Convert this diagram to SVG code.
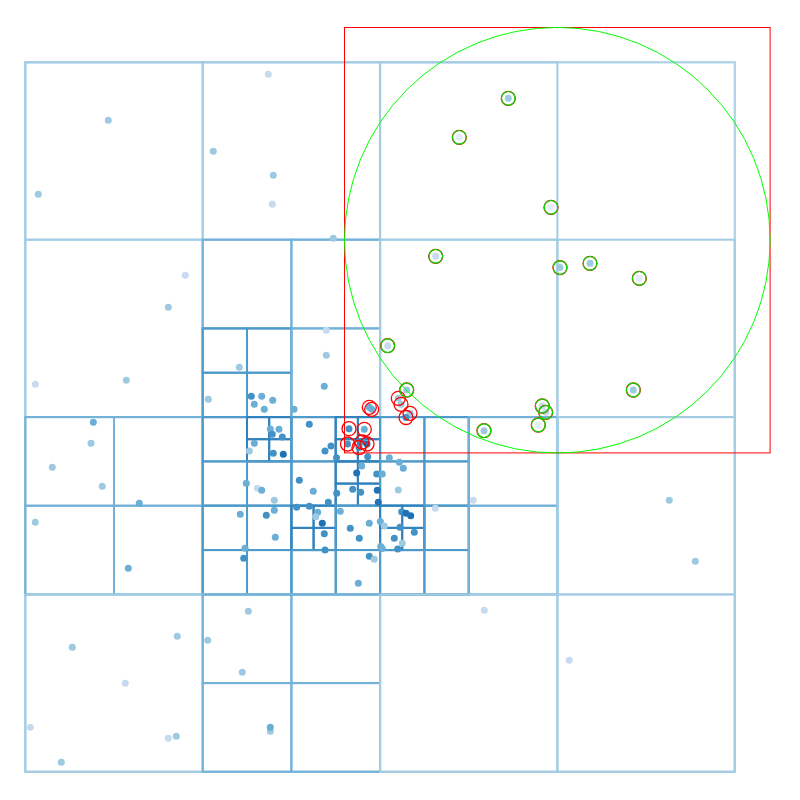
<svg xmlns="http://www.w3.org/2000/svg" width="800" height="800" viewBox="0 0 800 800">
<style>
rect.n{fill:none;stroke-width:2}
.d0{stroke:#bcdcec}.d1{stroke:#b0d3e8}.d2{stroke:#a3cce4}.d3{stroke:#72b1d8}.d4{stroke:#4e9acb}.d5{stroke:#3182bd}
circle.p{stroke:none}
.A{fill:#e2edf8}.B{fill:#c6dbef}.C{fill:#9ecae1}.D{fill:#6baed6}.E{fill:#4292c6}.F{fill:#2171b5}
.rr{fill:none;stroke:#ff0000;stroke-width:1.3}
.rg{fill:none;stroke:#00dd00;stroke-width:1.2}
</style>
<g id="quadtree">
<rect class="n d0" x="25.3" y="62.3" width="709.5" height="709.5"/>
<rect class="n d1" x="25.3" y="62.3" width="354.75" height="354.75"/>
<rect class="n d2" x="25.3" y="62.3" width="177.38" height="177.38"/>
<rect class="n d2" x="202.7" y="62.3" width="177.38" height="177.38"/>
<rect class="n d2" x="25.3" y="239.7" width="177.38" height="177.38"/>
<rect class="n d2" x="202.7" y="239.7" width="177.38" height="177.38"/>
<rect class="n d3" x="202.7" y="239.7" width="88.69" height="88.69"/>
<rect class="n d3" x="291.4" y="239.7" width="88.69" height="88.69"/>
<rect class="n d3" x="202.7" y="328.4" width="88.69" height="88.69"/>
<rect class="n d4" x="202.7" y="328.4" width="44.34" height="44.34"/>
<rect class="n d4" x="247.0" y="328.4" width="44.34" height="44.34"/>
<rect class="n d4" x="202.7" y="372.7" width="44.34" height="44.34"/>
<rect class="n d4" x="247.0" y="372.7" width="44.34" height="44.34"/>
<rect class="n d3" x="291.4" y="328.4" width="88.69" height="88.69"/>
<rect class="n d1" x="380.05" y="62.3" width="354.75" height="354.75"/>
<rect class="n d2" x="380.05" y="62.3" width="177.38" height="177.38"/>
<rect class="n d2" x="380.05" y="239.7" width="177.38" height="177.38"/>
<rect class="n d2" x="557.4" y="239.7" width="177.38" height="177.38"/>
<rect class="n d1" x="25.3" y="417.05" width="354.75" height="354.75"/>
<rect class="n d2" x="25.3" y="417.05" width="177.38" height="177.38"/>
<rect class="n d3" x="25.3" y="417.05" width="88.69" height="88.69"/>
<rect class="n d3" x="114.0" y="417.05" width="88.69" height="88.69"/>
<rect class="n d3" x="25.3" y="505.7" width="88.69" height="88.69"/>
<rect class="n d3" x="114.0" y="505.7" width="88.69" height="88.69"/>
<rect class="n d2" x="202.7" y="417.05" width="177.38" height="177.38"/>
<rect class="n d3" x="202.7" y="417.05" width="88.69" height="88.69"/>
<rect class="n d4" x="202.7" y="417.05" width="44.34" height="44.34"/>
<rect class="n d4" x="247.0" y="417.05" width="44.34" height="44.34"/>
<rect class="n d5" x="247.0" y="417.05" width="22.17" height="22.17"/>
<rect class="n d5" x="269.2" y="417.05" width="22.17" height="22.17"/>
<rect class="n d5" x="247.0" y="439.2" width="22.17" height="22.17"/>
<rect class="n d5" x="269.2" y="439.2" width="22.17" height="22.17"/>
<rect class="n d4" x="202.7" y="461.4" width="44.34" height="44.34"/>
<rect class="n d4" x="247.0" y="461.4" width="44.34" height="44.34"/>
<rect class="n d3" x="291.4" y="417.05" width="88.69" height="88.69"/>
<rect class="n d4" x="291.4" y="417.05" width="44.34" height="44.34"/>
<rect class="n d4" x="335.7" y="417.05" width="44.34" height="44.34"/>
<rect class="n d5" x="335.7" y="417.05" width="22.17" height="22.17"/>
<rect class="n d5" x="357.9" y="417.05" width="22.17" height="22.17"/>
<rect class="n d5" x="335.7" y="439.2" width="22.17" height="22.17"/>
<rect class="n d5" x="357.9" y="439.2" width="22.17" height="22.17"/>
<rect class="n d4" x="291.4" y="461.4" width="44.34" height="44.34"/>
<rect class="n d4" x="335.7" y="461.4" width="44.34" height="44.34"/>
<rect class="n d5" x="335.7" y="461.4" width="22.17" height="22.17"/>
<rect class="n d5" x="357.9" y="461.4" width="22.17" height="22.17"/>
<rect class="n d5" x="335.7" y="483.6" width="22.17" height="22.17"/>
<rect class="n d5" x="357.9" y="483.6" width="22.17" height="22.17"/>
<rect class="n d3" x="202.7" y="505.7" width="88.69" height="88.69"/>
<rect class="n d4" x="202.7" y="505.7" width="44.34" height="44.34"/>
<rect class="n d4" x="247.0" y="505.7" width="44.34" height="44.34"/>
<rect class="n d4" x="202.7" y="550.1" width="44.34" height="44.34"/>
<rect class="n d4" x="247.0" y="550.1" width="44.34" height="44.34"/>
<rect class="n d3" x="291.4" y="505.7" width="88.69" height="88.69"/>
<rect class="n d4" x="291.4" y="505.7" width="44.34" height="44.34"/>
<rect class="n d5" x="291.4" y="505.7" width="22.17" height="22.17"/>
<rect class="n d5" x="313.6" y="505.7" width="22.17" height="22.17"/>
<rect class="n d5" x="291.4" y="527.9" width="22.17" height="22.17"/>
<rect class="n d5" x="313.6" y="527.9" width="22.17" height="22.17"/>
<rect class="n d4" x="335.7" y="505.7" width="44.34" height="44.34"/>
<rect class="n d4" x="291.4" y="550.1" width="44.34" height="44.34"/>
<rect class="n d4" x="335.7" y="550.1" width="44.34" height="44.34"/>
<rect class="n d2" x="25.3" y="594.4" width="177.38" height="177.38"/>
<rect class="n d2" x="202.7" y="594.4" width="177.38" height="177.38"/>
<rect class="n d3" x="202.7" y="594.4" width="88.69" height="88.69"/>
<rect class="n d3" x="291.4" y="594.4" width="88.69" height="88.69"/>
<rect class="n d3" x="202.7" y="683.1" width="88.69" height="88.69"/>
<rect class="n d3" x="291.4" y="683.1" width="88.69" height="88.69"/>
<rect class="n d1" x="380.05" y="417.05" width="354.75" height="354.75"/>
<rect class="n d2" x="380.05" y="417.05" width="177.38" height="177.38"/>
<rect class="n d3" x="380.05" y="417.05" width="88.69" height="88.69"/>
<rect class="n d4" x="380.05" y="417.05" width="44.34" height="44.34"/>
<rect class="n d4" x="424.4" y="417.05" width="44.34" height="44.34"/>
<rect class="n d4" x="380.05" y="461.4" width="44.34" height="44.34"/>
<rect class="n d4" x="424.4" y="461.4" width="44.34" height="44.34"/>
<rect class="n d3" x="468.7" y="417.05" width="88.69" height="88.69"/>
<rect class="n d3" x="380.05" y="505.7" width="88.69" height="88.69"/>
<rect class="n d4" x="380.05" y="505.7" width="44.34" height="44.34"/>
<rect class="n d5" x="380.05" y="505.7" width="22.17" height="22.17"/>
<rect class="n d5" x="402.2" y="505.7" width="22.17" height="22.17"/>
<rect class="n d5" x="380.05" y="527.9" width="22.17" height="22.17"/>
<rect class="n d5" x="402.2" y="527.9" width="22.17" height="22.17"/>
<rect class="n d4" x="424.4" y="505.7" width="44.34" height="44.34"/>
<rect class="n d4" x="380.05" y="550.1" width="44.34" height="44.34"/>
<rect class="n d4" x="424.4" y="550.1" width="44.34" height="44.34"/>
<rect class="n d3" x="468.7" y="505.7" width="88.69" height="88.69"/>
<rect class="n d2" x="557.4" y="417.05" width="177.38" height="177.38"/>
<rect class="n d2" x="380.05" y="594.4" width="177.38" height="177.38"/>
<rect class="n d2" x="557.4" y="594.4" width="177.38" height="177.38"/>
</g>
<g id="points">
<circle class="p B" cx="268.3" cy="74.3" r="3.5"/>
<circle class="p C" cx="108.3" cy="120.3" r="3.5"/>
<circle class="p C" cx="38.3" cy="194.3" r="3.5"/>
<circle class="p C" cx="213.3" cy="151.3" r="3.5"/>
<circle class="p C" cx="273.3" cy="175.3" r="3.5"/>
<circle class="p B" cx="272.3" cy="204.3" r="3.5"/>
<circle class="p C" cx="333.3" cy="238.3" r="3.5"/>
<circle class="p C" cx="508.3" cy="98.3" r="3.5"/>
<circle class="p A" cx="459.3" cy="137.3" r="3.5"/>
<circle class="p A" cx="551" cy="207.3" r="3.5"/>
<circle class="p B" cx="435.7" cy="256.3" r="3.5"/>
<circle class="p C" cx="560" cy="267.6" r="3.5"/>
<circle class="p C" cx="590" cy="263.3" r="3.5"/>
<circle class="p A" cx="639.3" cy="278.3" r="3.5"/>
<circle class="p B" cx="387.7" cy="345.7" r="3.5"/>
<circle class="p C" cx="406.7" cy="390" r="3.5"/>
<circle class="p C" cx="633.3" cy="390" r="3.5"/>
<circle class="p B" cx="542.3" cy="406" r="3.5"/>
<circle class="p B" cx="545.7" cy="412.3" r="3.5"/>
<circle class="p A" cx="538.3" cy="425" r="3.5"/>
<circle class="p C" cx="484" cy="430.7" r="3.5"/>
<circle class="p C" cx="398.3" cy="398.3" r="3.5"/>
<circle class="p C" cx="401" cy="404.3" r="3.5"/>
<circle class="p C" cx="410" cy="413.3" r="3.5"/>
<circle class="p E" cx="406" cy="417.5" r="3.5"/>
<circle class="p B" cx="185.3" cy="275.3" r="3.5"/>
<circle class="p C" cx="168.3" cy="307.3" r="3.5"/>
<circle class="p B" cx="35.3" cy="384.3" r="3.5"/>
<circle class="p C" cx="126.3" cy="380.3" r="3.5"/>
<circle class="p B" cx="326.3" cy="330.3" r="3.5"/>
<circle class="p C" cx="326.3" cy="355.3" r="3.5"/>
<circle class="p D" cx="324.3" cy="386.3" r="3.5"/>
<circle class="p C" cx="239.3" cy="367.3" r="3.5"/>
<circle class="p C" cx="208.3" cy="399.3" r="3.5"/>
<circle class="p E" cx="251.3" cy="396.3" r="3.5"/>
<circle class="p D" cx="261.7" cy="396.3" r="3.5"/>
<circle class="p D" cx="254.3" cy="404.3" r="3.5"/>
<circle class="p D" cx="272.7" cy="400.3" r="3.5"/>
<circle class="p D" cx="264.3" cy="409.3" r="3.5"/>
<circle class="p D" cx="294" cy="409.3" r="3.5"/>
<circle class="p D" cx="369.3" cy="407.3" r="3.5"/>
<circle class="p D" cx="371.7" cy="409.3" r="3.5"/>
<circle class="p E" cx="309.3" cy="424.3" r="3.5"/>
<circle class="p D" cx="270.3" cy="429" r="3.5"/>
<circle class="p D" cx="279" cy="429.3" r="3.5"/>
<circle class="p E" cx="272.3" cy="434.3" r="3.5"/>
<circle class="p E" cx="282.3" cy="437" r="3.5"/>
<circle class="p D" cx="254.3" cy="443.3" r="3.5"/>
<circle class="p C" cx="249.3" cy="451" r="3.5"/>
<circle class="p E" cx="273.3" cy="453.3" r="3.5"/>
<circle class="p F" cx="283.3" cy="454.3" r="3.5"/>
<circle class="p E" cx="325" cy="451" r="3.5"/>
<circle class="p E" cx="331" cy="446" r="3.5"/>
<circle class="p E" cx="336.5" cy="457.7" r="3.5"/>
<circle class="p E" cx="349" cy="428.7" r="3.5"/>
<circle class="p D" cx="364.3" cy="429.3" r="3.5"/>
<circle class="p E" cx="347.5" cy="444" r="3.5"/>
<circle class="p E" cx="359" cy="447.5" r="3.5"/>
<circle class="p E" cx="362" cy="442" r="3.5"/>
<circle class="p F" cx="367" cy="444" r="3.5"/>
<circle class="p E" cx="367.7" cy="456.7" r="3.5"/>
<circle class="p D" cx="361.7" cy="466" r="3.5"/>
<circle class="p F" cx="356.7" cy="473" r="3.5"/>
<circle class="p E" cx="376.7" cy="474" r="3.5"/>
<circle class="p D" cx="382.3" cy="474" r="3.5"/>
<circle class="p D" cx="389.3" cy="457.7" r="3.5"/>
<circle class="p D" cx="399.3" cy="462.3" r="3.5"/>
<circle class="p D" cx="403.3" cy="468.3" r="3.5"/>
<circle class="p E" cx="299.3" cy="480.3" r="3.5"/>
<circle class="p D" cx="246.3" cy="483.3" r="3.5"/>
<circle class="p B" cx="257.3" cy="488.3" r="3.5"/>
<circle class="p D" cx="261.7" cy="490.3" r="3.5"/>
<circle class="p D" cx="313.3" cy="491.3" r="3.5"/>
<circle class="p E" cx="352.7" cy="489.3" r="3.5"/>
<circle class="p E" cx="360.7" cy="492.3" r="3.5"/>
<circle class="p F" cx="377.3" cy="490.3" r="3.5"/>
<circle class="p E" cx="336.7" cy="493.3" r="3.5"/>
<circle class="p C" cx="274.3" cy="500.3" r="3.5"/>
<circle class="p E" cx="328.3" cy="502.3" r="3.5"/>
<circle class="p F" cx="378.3" cy="502.3" r="3.5"/>
<circle class="p C" cx="398.3" cy="490" r="3.5"/>
<circle class="p B" cx="473.3" cy="500.3" r="3.5"/>
<circle class="p B" cx="435.3" cy="508.3" r="3.5"/>
<circle class="p D" cx="274.3" cy="510.3" r="3.5"/>
<circle class="p E" cx="296.7" cy="507.3" r="3.5"/>
<circle class="p E" cx="309.3" cy="506.3" r="3.5"/>
<circle class="p D" cx="317.7" cy="512.3" r="3.5"/>
<circle class="p C" cx="315.7" cy="516.7" r="3.5"/>
<circle class="p D" cx="240.3" cy="514.3" r="3.5"/>
<circle class="p E" cx="266.3" cy="515.3" r="3.5"/>
<circle class="p D" cx="340.3" cy="511.3" r="3.5"/>
<circle class="p E" cx="401.7" cy="511.7" r="3.5"/>
<circle class="p F" cx="406" cy="513.3" r="3.5"/>
<circle class="p F" cx="410.7" cy="515.7" r="3.5"/>
<circle class="p F" cx="322.3" cy="523.3" r="3.5"/>
<circle class="p E" cx="350.3" cy="528.3" r="3.5"/>
<circle class="p D" cx="369.3" cy="523.3" r="3.5"/>
<circle class="p D" cx="380.3" cy="521.5" r="3.5"/>
<circle class="p C" cx="384.3" cy="526" r="3.5"/>
<circle class="p E" cx="400" cy="527.3" r="3.5"/>
<circle class="p E" cx="414.3" cy="532.3" r="3.5"/>
<circle class="p E" cx="394.3" cy="538.3" r="3.5"/>
<circle class="p E" cx="324.3" cy="533.7" r="3.5"/>
<circle class="p E" cx="359.3" cy="538.3" r="3.5"/>
<circle class="p D" cx="275.3" cy="537.3" r="3.5"/>
<circle class="p D" cx="245" cy="548.3" r="3.5"/>
<circle class="p E" cx="243.7" cy="558.3" r="3.5"/>
<circle class="p E" cx="325" cy="550" r="3.5"/>
<circle class="p D" cx="380.7" cy="546.5" r="3.5"/>
<circle class="p D" cx="382.3" cy="548.5" r="3.5"/>
<circle class="p C" cx="402.3" cy="543.3" r="3.5"/>
<circle class="p E" cx="397.7" cy="549" r="3.5"/>
<circle class="p E" cx="369.3" cy="556.3" r="3.5"/>
<circle class="p C" cx="374.3" cy="559.3" r="3.5"/>
<circle class="p D" cx="358.3" cy="583.3" r="3.5"/>
<circle class="p D" cx="93.3" cy="422.3" r="3.5"/>
<circle class="p C" cx="91" cy="443.3" r="3.5"/>
<circle class="p C" cx="52.3" cy="467.3" r="3.5"/>
<circle class="p C" cx="102.3" cy="486.3" r="3.5"/>
<circle class="p D" cx="139.3" cy="503.3" r="3.5"/>
<circle class="p C" cx="35.3" cy="522.3" r="3.5"/>
<circle class="p D" cx="128.3" cy="568.3" r="3.5"/>
<circle class="p C" cx="248.3" cy="611.3" r="3.5"/>
<circle class="p C" cx="207.7" cy="640.3" r="3.5"/>
<circle class="p C" cx="242.3" cy="672.3" r="3.5"/>
<circle class="p C" cx="270.3" cy="731.3" r="3.5"/>
<circle class="p D" cx="270.3" cy="727.3" r="3.5"/>
<circle class="p C" cx="72.3" cy="647.3" r="3.5"/>
<circle class="p C" cx="177.3" cy="636.3" r="3.5"/>
<circle class="p B" cx="125.3" cy="683.3" r="3.5"/>
<circle class="p B" cx="30.3" cy="727.3" r="3.5"/>
<circle class="p B" cx="168.3" cy="738.3" r="3.5"/>
<circle class="p C" cx="176.3" cy="736.3" r="3.5"/>
<circle class="p C" cx="61.3" cy="762.3" r="3.5"/>
<circle class="p C" cx="669.3" cy="500.3" r="3.5"/>
<circle class="p C" cx="695.3" cy="561.3" r="3.5"/>
<circle class="p B" cx="484.3" cy="610.3" r="3.5"/>
<circle class="p B" cx="569.3" cy="660.3" r="3.5"/>
</g>
<g id="search">
<rect x="344.5" y="27.5" width="425.6" height="425.4" fill="none" stroke="#ff0000" stroke-width="1"/>
<circle cx="557.3" cy="240.2" r="212.8" fill="none" stroke="#00ff00" stroke-width="1"/>
</g>
<g id="found-rect">
<circle class="rr" cx="508.3" cy="98.3" r="7"/>
<circle class="rr" cx="459.3" cy="137.3" r="7"/>
<circle class="rr" cx="551" cy="207.3" r="7"/>
<circle class="rr" cx="435.7" cy="256.3" r="7"/>
<circle class="rr" cx="560" cy="267.6" r="7"/>
<circle class="rr" cx="590" cy="263.3" r="7"/>
<circle class="rr" cx="639.3" cy="278.3" r="7"/>
<circle class="rr" cx="387.7" cy="345.7" r="7"/>
<circle class="rr" cx="406.7" cy="390" r="7"/>
<circle class="rr" cx="633.3" cy="390" r="7"/>
<circle class="rr" cx="542.3" cy="406" r="7"/>
<circle class="rr" cx="545.7" cy="412.3" r="7"/>
<circle class="rr" cx="538.3" cy="425" r="7"/>
<circle class="rr" cx="484" cy="430.7" r="7"/>
<circle class="rr" cx="398.3" cy="398.3" r="7"/>
<circle class="rr" cx="401" cy="404.3" r="7"/>
<circle class="rr" cx="410" cy="413.3" r="7"/>
<circle class="rr" cx="406" cy="417.5" r="7"/>
<circle class="rr" cx="369.3" cy="407.3" r="7"/>
<circle class="rr" cx="371.7" cy="409.3" r="7"/>
<circle class="rr" cx="349" cy="428.7" r="7"/>
<circle class="rr" cx="364.3" cy="429.3" r="7"/>
<circle class="rr" cx="347.5" cy="444" r="7"/>
<circle class="rr" cx="359" cy="447.5" r="7"/>
<circle class="rr" cx="362" cy="442" r="7"/>
<circle class="rr" cx="367" cy="444" r="7"/>
</g>
<g id="found-circle">
<circle class="rg" cx="508.3" cy="98.3" r="6.8"/>
<circle class="rg" cx="459.3" cy="137.3" r="6.8"/>
<circle class="rg" cx="551" cy="207.3" r="6.8"/>
<circle class="rg" cx="435.7" cy="256.3" r="6.8"/>
<circle class="rg" cx="560" cy="267.6" r="6.8"/>
<circle class="rg" cx="590" cy="263.3" r="6.8"/>
<circle class="rg" cx="639.3" cy="278.3" r="6.8"/>
<circle class="rg" cx="387.7" cy="345.7" r="6.8"/>
<circle class="rg" cx="406.7" cy="390" r="6.8"/>
<circle class="rg" cx="633.3" cy="390" r="6.8"/>
<circle class="rg" cx="542.3" cy="406" r="6.8"/>
<circle class="rg" cx="545.7" cy="412.3" r="6.8"/>
<circle class="rg" cx="538.3" cy="425" r="6.8"/>
<circle class="rg" cx="484" cy="430.7" r="6.8"/>
</g>
</svg>
